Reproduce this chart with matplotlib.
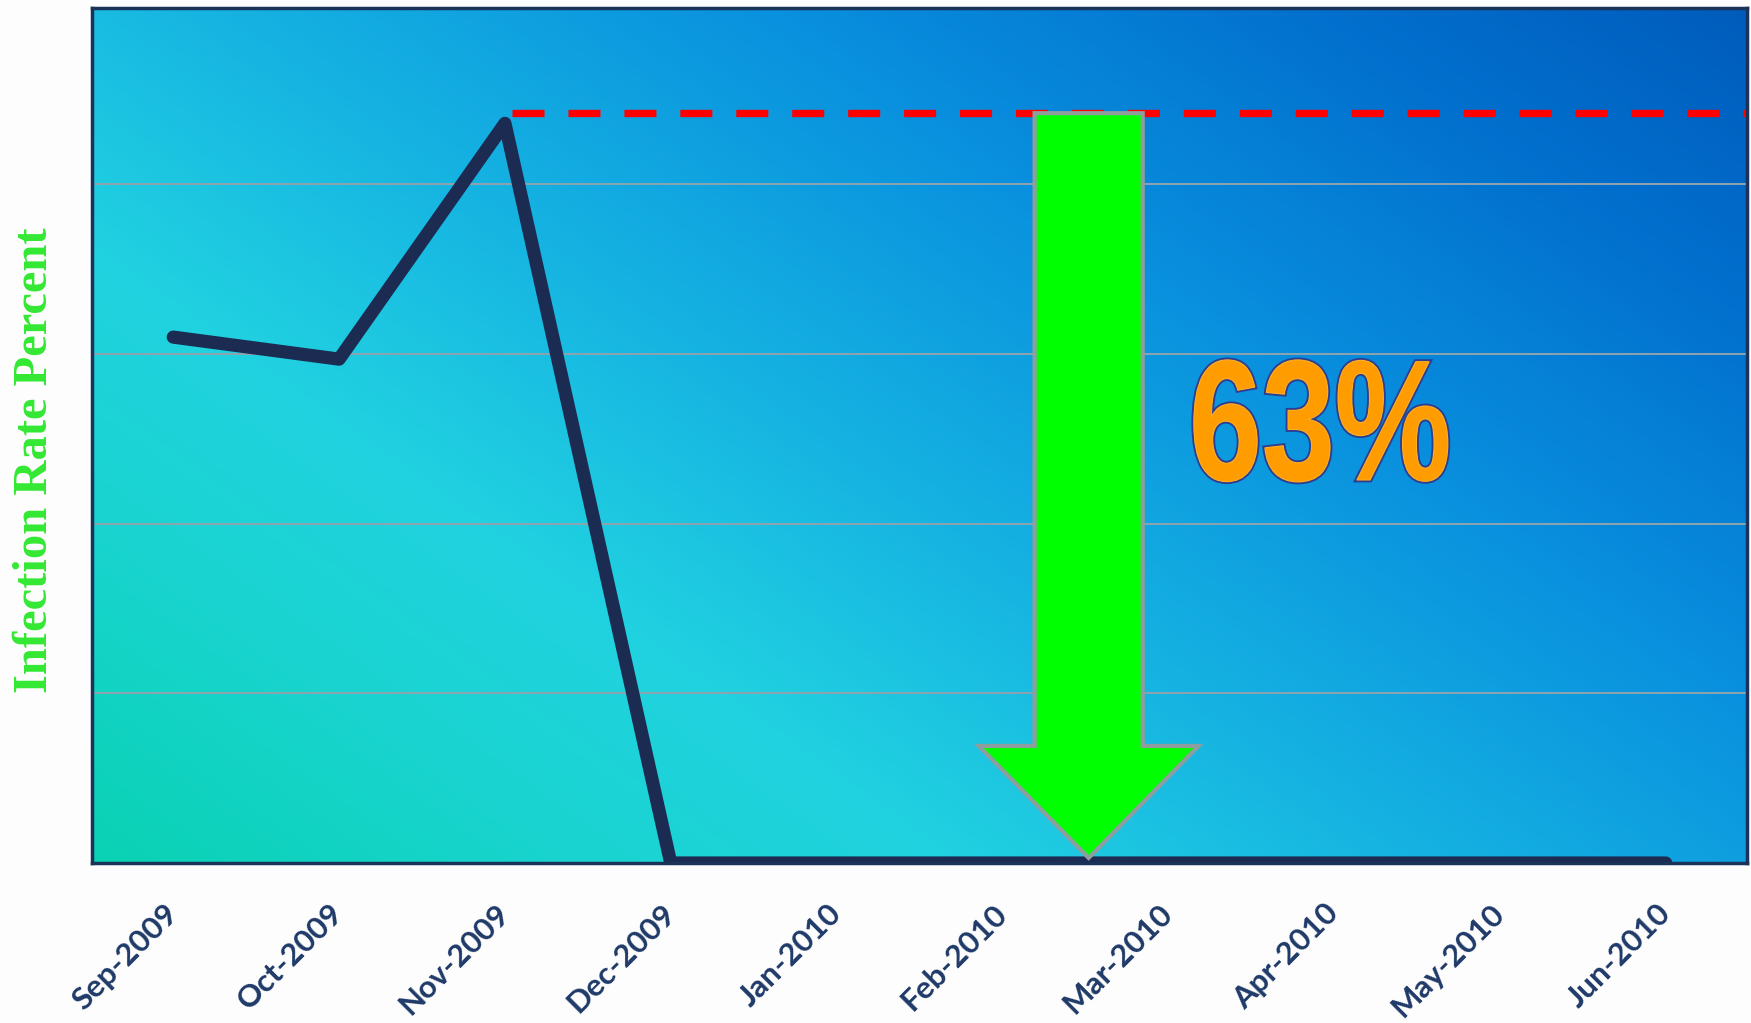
import numpy as np
import matplotlib
matplotlib.use("Agg")
import matplotlib.pyplot as plt
from matplotlib.colors import LinearSegmentedColormap
from matplotlib.textpath import TextPath
from matplotlib.font_manager import FontProperties
from matplotlib.patches import PathPatch
from matplotlib.transforms import Affine2D, ScaledTranslation

# ---- data ----
months = ['Sep-2009', 'Oct-2009', 'Nov-2009', 'Dec-2009', 'Jan-2010',
          'Feb-2010', 'Mar-2010', 'Apr-2010', 'May-2010', 'Jun-2010']
infection_rate = [3.10, 2.97, 4.36, 0.0, 0.0, 0.0, 0.0, 0.0, 0.0, 0.0]
peak_reference = 4.42
reduction_label = '63%'
ylabel = 'Infection Rate Percent'
grid_levels = [1, 2, 3, 4]

W, H, DPI = 1751, 1023, 100
fig = plt.figure(figsize=(W / DPI, H / DPI), dpi=DPI, facecolor='#FDFDFD')
ax = fig.add_axes([92 / W, 1 - 863 / H, (1747 - 92) / W, (863 - 8) / H])

x = np.arange(len(months))
XL, YL = (-0.49, 9.49), (0, 5.04)

# gradient background
cmap = LinearSegmentedColormap.from_list('bg', [
    (0.00, '#0AD2B4'),
    (0.16, '#18D4CE'),
    (0.30, '#21D2E0'),
    (0.46, '#16B4E2'),
    (0.66, '#0990DE'),
    (0.85, '#0270CE'),
    (1.00, '#005CBC')])
gx, gy = np.meshgrid(np.linspace(0, 1, 400), np.linspace(0, 1, 250))
u = 0.62 * gx + 0.45 * gy
u = u / u.max()
ax.imshow(u, cmap=cmap, origin='lower', aspect='auto',
          extent=[XL[0], XL[1], YL[0], YL[1]], zorder=0, interpolation='bicubic')

for g in grid_levels:
    ax.axhline(g, color='#8FA3AE', lw=1.4, zorder=1)

# dashed reference line from peak
ax.plot([x[2] + 0.04, XL[1]], [peak_reference, peak_reference], color='#FF0000',
        lw=5.3, dashes=(4.35, 3.25), zorder=3, solid_capstyle='butt')

# main line
ax.plot(x, infection_rate, color='#1C2B52', lw=9.5, zorder=4,
        solid_capstyle='round', solid_joinstyle='round')

# reduction arrow
arrow_x = 5.52
ax.arrow(arrow_x, peak_reference, 0, -(peak_reference - 0.03),
         width=0.652, head_width=1.325, head_length=0.66,
         length_includes_head=True, facecolor='#00FF00',
         edgecolor='#8E9E9E', lw=3, zorder=5)

# 63% text (condensed heavy look)
fp = FontProperties(family=['Liberation Sans', 'DejaVu Sans'], weight='bold')
tp = TextPath((0, 0), reduction_label, size=100, prop=fp)
ext = tp.get_extents()
sx, sy = 254 / ext.width, 122 / ext.height
trans = (Affine2D().translate(-(ext.x0 + ext.width / 2), -(ext.y0 + ext.height / 2))
         .scale(sx, sy) + ScaledTranslation(6.92, 2.606, ax.transData))
ax.add_artist(PathPatch(tp, transform=trans, facecolor='#2E3D8F',
                        edgecolor='#2E3D8F', lw=3.5, zorder=6))
ax.add_artist(PathPatch(tp, transform=trans, facecolor='#FF9C00',
                        edgecolor='#FFB020', lw=0.8, zorder=7))

ax.set_xlim(*XL)
ax.set_ylim(*YL)
ax.set_xticks(x)
ax.set_xticklabels(months, rotation=45, ha='right', va='center',
                   rotation_mode='anchor', fontsize=22.5, fontweight='bold',
                   color='#1F3A68', family=['Lato', 'DejaVu Sans'])
ax.tick_params(axis='x', length=0, pad=33)
ax.set_yticks([])

for s in ax.spines.values():
    s.set_color('#1B3358')
    s.set_linewidth(2.5)
    s.set_zorder(8)

fig.text(35 / W, 1 - 460 / H, ylabel, rotation=90, ha='center', va='center',
         fontsize=35, fontweight='bold', color='#33E833',
         family=['Liberation Serif', 'DejaVu Serif'])

fig.savefig('out.png', dpi=DPI, facecolor=fig.get_facecolor())
